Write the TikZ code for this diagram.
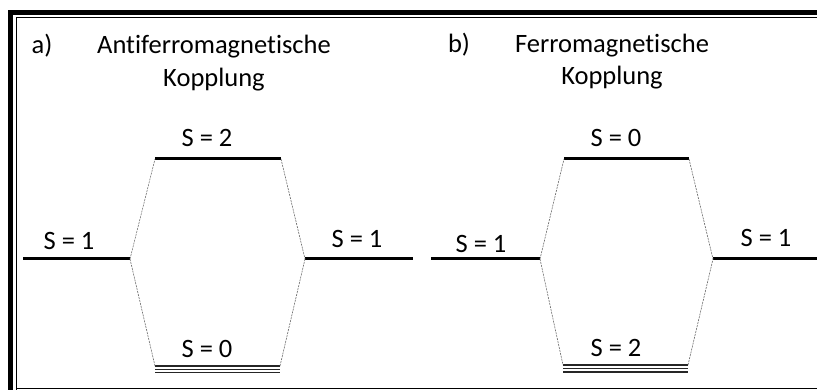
\documentclass[tikz,border=0pt]{standalone}
\usepackage{fontspec}
\setmainfont[Ligatures=NoCommon]{Carlito}
\usetikzlibrary{calc}

\tikzset{
  level/.style={line width=3pt},
  ground/.style={line width=1.1pt, black!85},
  corr/.style={gray!80!black, line width=0.6pt, dash pattern=on 2pt off 1pt},
  term/.style={anchor=base, inner sep=0pt, font=\fontsize{26.5}{31}\selectfont},
}

\begin{document}
\begin{tikzpicture}[x=1pt, y=-1pt]
    \useasboundingbox (0,0) rectangle (817,390);

    % Rahmen
    \draw[line width=5pt] (10.5,390) -- (10.5,12.5) -- (817,12.5);
    \draw[line width=0.8pt] (16,390) -- (16,17.5) -- (817,17.5);
    \draw[line width=0.8pt] (16,388) -- (817,388);

    % a) Antiferromagnetische Kopplung
    \begin{scope}
      \node[term] (labA) at (42,54) {a)};
      \node[term] (titA) at (214,54) {Antiferromagnetische};
      \node[term] (subA) at (214,87) {Kopplung};

      % Niveaus
      \coordinate (aL1) at (23,259);  \coordinate (aL2) at (130,259);
      \coordinate (aR1) at (305,259); \coordinate (aR2) at (413,259);
      \coordinate (aT1) at (155,159); \coordinate (aT2) at (281,159);
      \coordinate (aB1) at (155,366); \coordinate (aB2) at (280,366);
      \draw[level] (aL1) -- (aL2);
      \draw[level] (aR1) -- (aR2);
      \draw[level] (aT1) -- (aT2);
      \foreach \dy in {0,3.3,6.6}
        \draw[ground] ($(aB1)+(0,\dy)$) -- ($(aB2)+(0,\dy)$);

      % Korrelationslinien
      \draw[corr] (aL2) -- (aT1);
      \draw[corr] (aL2) -- (aB1);
      \draw[corr] (aT2) -- (aR1);
      \draw[corr] (aB2) -- (aR1);

      \node[term] (sAL) at (69,250) {S = 1};
      \node[term] (sAR) at (357,248) {S = 1};
      \node[term] (sAT) at (207,147) {S = 2};
      \node[term] (sAB) at (207,357) {S = 0};
    \end{scope}

    % b) Ferromagnetische Kopplung
    \begin{scope}
      \node[term] (labB) at (459,53) {b)};
      \node[term] (titB) at (612,53) {Ferromagnetische};
      \node[term] (subB) at (612,85) {Kopplung};

      % Niveaus
      \coordinate (bL1) at (431,259); \coordinate (bL2) at (540,259);
      \coordinate (bR1) at (713,259); \coordinate (bR2) at (817,259);
      \coordinate (bT1) at (564,159); \coordinate (bT2) at (689,159);
      \coordinate (bB1) at (563,365); \coordinate (bB2) at (688,365);
      \draw[level] (bL1) -- (bL2);
      \draw[level] (bR1) -- (bR2);
      \draw[level] (bT1) -- (bT2);
      \foreach \dy in {0,3.5,7}
        \draw[ground] ($(bB1)+(0,\dy)$) -- ($(bB2)+(0,\dy)$);

      % Korrelationslinien
      \draw[corr] (bL2) -- (bT1);
      \draw[corr] (bL2) -- (bB1);
      \draw[corr] (bT2) -- (bR1);
      \draw[corr] (bB2) -- (bR1);

      \node[term] (sBL) at (481,253) {S = 1};
      \node[term] (sBR) at (766,247) {S = 1};
      \node[term] (sBT) at (616,147) {S = 0};
      \node[term] (sBB) at (616,356) {S = 2};
    \end{scope}

  \end{tikzpicture}
\end{document}
